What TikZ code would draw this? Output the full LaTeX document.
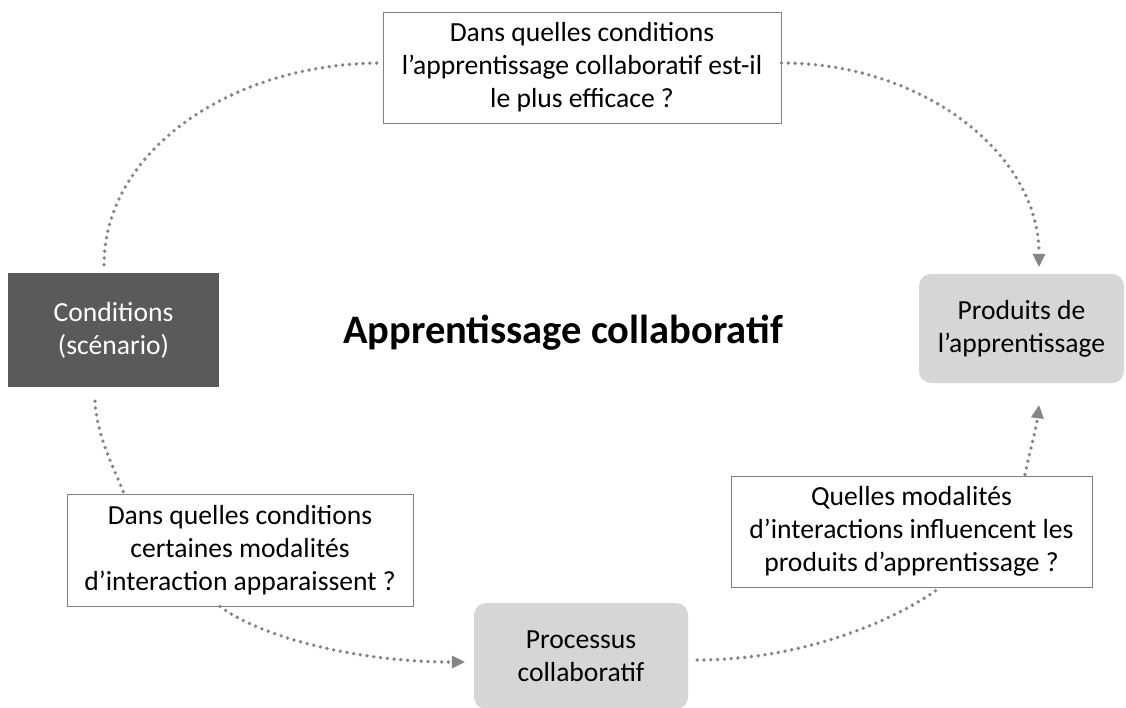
\documentclass[tikz,border=0pt]{standalone}
\usepackage{fontspec}
\setmainfont{Carlito}
\usetikzlibrary{arrows.meta}
\definecolor{darkbox}{HTML}{5A5A5A}
\definecolor{lightbox}{HTML}{D6D6D6}
\definecolor{dotgray}{HTML}{858585}
\definecolor{framegray}{HTML}{808080}
\tikzset{
  txt/.style={font=\fontsize{27.6}{33}\selectfont, align=center, inner sep=0pt},
  question/.style={txt, draw=framegray, line width=1pt, fill=white},
  darknode/.style={txt, fill=darkbox, text=white},
  lightnode/.style={txt, fill=lightbox, rounded corners=12pt},
  dotline/.style={draw=dotgray, line width=3.8pt, line cap=round, dash pattern=on 0pt off 6.8pt},
  dotarrow/.style={dotline, -{Triangle[length=13pt,width=13pt,line width=0pt]}}
}
\begin{document}
\begin{tikzpicture}[x=1pt,y=-1pt]
\useasboundingbox (0,0) rectangle (1126,707);
\fill[white] (0,0) rectangle (1126,707);

\node[question, minimum width=398pt, minimum height=111pt] (top) at (582,67.5)
  {Dans quelles conditions\\l’apprentissage collaboratif est-il\\le plus efficace ?};
\node[darknode, minimum width=211pt, minimum height=114pt] (cond) at (113.5,330)
  {Conditions\\(scénario)};
\node[lightnode, minimum width=205pt, minimum height=109pt] (prod) at (1021.5,328.5)
  {Produits de\\l’apprentissage};
\node[question, minimum width=346pt, minimum height=112pt] (bl) at (240,550)
  {Dans quelles conditions\\certaines modalités\\d’interaction apparaissent ?};
\node[lightnode, minimum width=214pt, minimum height=106pt] (proc) at (581,656)
  {Processus\\collaboratif};
\node[question, minimum width=361pt, minimum height=111pt] (br) at (911.5,531.5)
  {Quelles modalités\\d’interactions influencent les\\produits d’apprentissage ?};
\node[font=\fontsize{40.5}{44}\selectfont\bfseries, inner sep=0pt] (title) at (563,333)
  {Apprentissage collaboratif};

% named free ends
\coordinate (c1s) at ([xshift=-9.5pt,yshift=8pt]cond.north);
\coordinate (c1e) at ([yshift=4.5pt]top.west);
\coordinate (c2s) at ([yshift=4.5pt]top.east);
\coordinate (c2e) at ([xshift=17.5pt,yshift=7pt]prod.north);
\coordinate (c3s) at ([xshift=-18.5pt,yshift=-14pt]cond.south);
\coordinate (c3e) at ([xshift=-116pt]bl.north);
\coordinate (c4s) at ([xshift=-20pt]bl.south);
\coordinate (c4e) at ([xshift=-9pt,yshift=-6pt]proc.west);
\coordinate (c5s) at ([xshift=9pt,yshift=-4pt]proc.east);
\coordinate (c5e) at ([xshift=28.5pt]br.south);
\coordinate (c6s) at ([xshift=113.5pt,yshift=1pt]br.north);
\coordinate (c6e) at ([xshift=17.5pt,yshift=-22pt]prod.south);

\draw[dotline] (c1s) .. controls +(0,-112) and +(-154,0) .. (c1e);
\draw[dotarrow] (c2s) .. controls +(142,0) and +(0,-113) .. (c2e);
\draw[dotline] (c3s) .. controls +(2,35) and +(-12,-30) .. (c3e);
\draw[dotarrow] (c4s) .. controls +(40,30) and +(-110,0) .. (c4e);
\draw[dotline] (c5s) .. controls +(110,0) and +(-40,30) .. (c5e);
\draw[dotarrow] (c6s) .. controls +(5,-25) and +(-3,25) .. (c6e);
\end{tikzpicture}
\end{document}
